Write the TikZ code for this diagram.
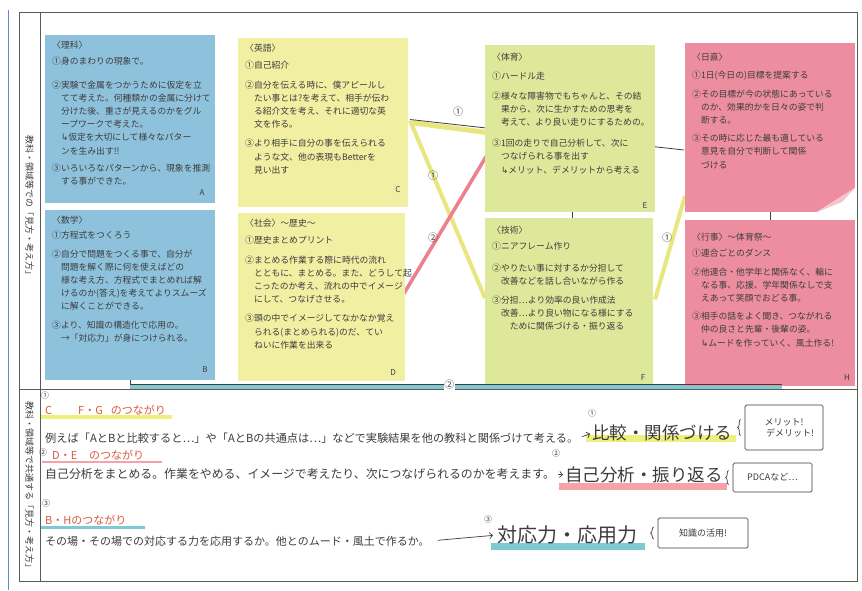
\documentclass[tikz,border=0pt]{standalone}
\usepackage{fontspec}
\setmainfont{Noto Sans CJK JP}
\newfontfamily\symfont{DejaVu Sans}
\usetikzlibrary{calc,backgrounds,decorations.pathreplacing,arrows.meta}
\definecolor{ink}{HTML}{3C3C3C}
\definecolor{frameC}{HTML}{5A5A5A}
\definecolor{scanBlue}{HTML}{5A8CD0}
\definecolor{noteBlue}{HTML}{8EC2DC}
\definecolor{noteYel}{HTML}{F1EFA2}
\definecolor{noteGrn}{HTML}{DEE89A}
\definecolor{notePink}{HTML}{EC8E9F}
\definecolor{flapPink}{HTML}{F6C4CC}
\definecolor{hlY}{HTML}{EEF07C}
\definecolor{hlR}{HTML}{F4A3AA}
\definecolor{hlB}{HTML}{7FCAD2}
\definecolor{lineY}{HTML}{E8E67E}
\definecolor{lineR}{HTML}{EE7F8E}
\definecolor{headR}{HTML}{D95A40}
\newcommand{\hookarr}{{\symfont ↳}}
\begin{document}
\begin{tikzpicture}[x=1pt,y=-1pt,
  notebox/.style={anchor=north west, inner sep=0pt, outer sep=0pt},
  notetext/.style={anchor=north west, align=left, inner sep=0pt, text=ink, font=\fontsize{8.8}{13.2}\selectfont},
  noteletter/.style={inner sep=0pt, text=ink, font=\fontsize{8}{8}\selectfont},
  circnum/.style={inner sep=0.5pt, text=ink, font=\fontsize{10}{10}\selectfont},
  smallnum/.style={inner sep=0pt, text=ink, font=\fontsize{8}{8}\selectfont},
  vlabel/.style={rotate=-90, inner sep=0pt, text=ink, font=\fontsize{9}{9}\selectfont},
  frameline/.style={draw=frameC, line width=0.8pt},
  headtxt/.style={anchor=west, inner sep=0pt, text=headR, font=\fontsize{11}{11}\selectfont},
  bodytxt/.style={anchor=west, inner sep=0pt, text=ink},
  bigtxt/.style={anchor=west, inner sep=0pt, text=ink},
  memobox/.style={draw=ink, line width=0.7pt, inner sep=2pt, align=center, text=ink, font=\fontsize{9}{11}\selectfont, rounded corners=1.5pt},
  inkarrow/.style={draw=ink, line width=0.7pt, -{Straight Barb[length=3pt]}},
  bracestyle/.style={draw=ink, line width=0.7pt, decorate, decoration={brace, amplitude=3pt}},
]
\useasboundingbox (0,0) rectangle (862,590);
\begin{scope}[on background layer]
  \fill[white] (0,0) rectangle (862,590);
\end{scope}

% frame
\draw[scanBlue, line width=1pt] (8,10) -- (8,590);
\draw[frameline] (19,12) rectangle (857,581);
\draw[frameline] (40,12) -- (40,581);
\draw[frameline] (19,389) -- (857,389);

\node[vlabel] (L1) at (29.5,207) {教科・領域等での「見方・考え方」};
\node[vlabel] (L2) at (29.5,487) {教科・領域等で共通する「見方・考え方」};

% sticky notes
\node[notebox, fill=noteBlue, minimum width=170pt, minimum height=168pt] (A) at (45,35) {};
\node[notebox, fill=noteBlue, minimum width=170pt, minimum height=170pt] (B) at (45,210) {};
\node[notebox, fill=noteYel, minimum width=170pt, minimum height=169pt] (C) at (238,38) {};
\node[notebox, fill=noteYel, minimum width=167pt, minimum height=168pt] (D) at (238,213) {};
\node[notebox, fill=noteGrn, minimum width=170pt, minimum height=167pt] (E) at (485,45) {};
\node[notebox, fill=noteGrn, minimum width=168pt, minimum height=167pt] (F) at (485,218) {};
\node[notebox, fill=notePink, minimum width=170pt, minimum height=169pt] (G) at (685,43) {};
\node[notebox, fill=notePink, minimum width=170pt, minimum height=166pt] (H) at (685,220) {};
\fill[white] (G.south east) -- ($(G.south east)+(0,-24)$) -- ($(G.south east)+(-38,0)$) -- cycle;
\fill[flapPink] ($(G.south east)+(0,-24)$) -- ($(G.south east)+(-38,0)$) -- ($(G.south east)+(-13,-10)$) -- cycle;

\node[notetext] (At) at ($(A.north west)+(7,6)$) {〈理科〉\\[3pt]
①身のまわりの現象で。\\[10pt]
②実験で金属をつかうために仮定を立\\
　てて考えた。何種類かの金属に分けて\\
　分けた後、重さが見えるのかをグル\\
　ープワークで考えた。\\
　\hookarr 仮定を大切にして様々なパター\\
　ンを生み出す!!\\[4pt]
③いろいろなパターンから、現象を推測\\
　する事ができた。};
\node[notetext] (Bt) at ($(B.north west)+(7,6)$) {〈数学〉\\[2pt]
①方程式をつくろう\\[5pt]
②自分で問題をつくる事で、自分が\\
　問題を解く際に何を使えばどの\\
　様な考え方、方程式でまとめれば解\\
　けるのか(答え)を考えてよりスムーズ\\
　に解くことができる。\\[5pt]
③より、知識の構造化で応用の。\\
　→「対応力」が身につけられる。};
\node[notetext] (Ct) at ($(C.north west)+(7,6)$) {〈英語〉\\[4pt]
①自己紹介\\[6pt]
②自分を伝える時に、僕アピールし\\
　たい事とは?を考えて、相手が伝わ\\
　る紹介文を考え、それに適切な英\\
　文を作る。\\[6pt]
③より相手に自分の事を伝えられる\\
　ような文、他の表現もBetterを\\
　見い出す};
\node[notetext] (Dt) at ($(D.north west)+(7,6)$) {〈社会〉〜歴史〜\\[4pt]
①歴史まとめプリント\\[6pt]
②まとめる作業する際に時代の流れ\\
　とともに、まとめる。また、どうして起\\
　こったのか考え、流れの中でイメージ\\
　にして、つなげさせる。\\[6pt]
③頭の中でイメージしてなかなか覚え\\
　られる(まとめられる)のだ、てい\\
　ねいに作業を出来る};
\node[notetext] (Et) at ($(E.north west)+(7,8)$) {〈体育〉\\[6pt]
①ハードル走\\[6pt]
②様々な障害物でもちゃんと、その結\\
　果から、次に生かすための思考を\\
　考えて、より良い走りにするための。\\[8pt]
③1回の走りで自己分析して、次に\\
　つなげられる事を出す\\
　\hookarr メリット、デメリットから考える};
\node[notetext] (Ft) at ($(F.north west)+(7,8)$) {〈技術〉\\[3pt]
①ニアフレーム作り\\[8pt]
②やりたい事に対するか分担して\\
　改善などを話し合いながら作る\\[6pt]
③分担…より効率の良い作成法\\
　改善…より良い物になる様にする\\
　　ために関係づける・振り返る};
\node[notetext] (Gt) at ($(G.north west)+(7,10)$) {〈日直〉\\[5pt]
①1日(今日の)目標を提案する\\[5pt]
②その目標が今の状態にあっている\\
　のか、効果的かを日々の姿で判\\
　断する。\\[5pt]
③その時に応じた最も適している\\
　意見を自分で判断して関係\\
　づける};
\node[notetext] (Ht) at ($(H.north west)+(7,13)$) {〈行事〉〜体育祭〜\\[3pt]
①連合ごとのダンス\\[5pt]
②他連合・他学年と関係なく、輪に\\
　なる事、応援、学年関係なしで支\\
　えあって笑顔でおどる事。\\[5pt]
③相手の話をよく聞き、つながれる\\
　仲の良さと先輩・後輩の姿。\\
　\hookarr ムードを作っていく、風土作る!};

\node[noteletter] (Al) at ($(A.south east)+(-13,-10)$) {A};
\node[noteletter] (Bl) at ($(B.south east)+(-10,-10)$) {B};
\node[noteletter] (Cl) at ($(C.south east)+(-10,-17)$) {C};
\node[noteletter] (Dl) at ($(D.south east)+(-12,-8)$) {D};
\node[noteletter] (El) at ($(E.south east)+(-10,-6)$) {E};
\node[noteletter] (Fl) at ($(F.south east)+(-10,-7)$) {F};
\node[noteletter] (Hl) at ($(H.south east)+(-8,-8)$) {H};

% connectors behind the notes
\coordinate (bh1) at ($(B.south)+(0,4)$);
\coordinate (bh2) at ($(H.south)+(12,-2)$);
\begin{scope}[on background layer]
  \draw[lineY, line width=5pt] ($(C.east)+(2,0)$) -- ($(E.west)+(2,4)$);
  \draw[ink, line width=0.8pt] ($(C.east)+(2,-3)$) -- ($(G.west)+(-1,22.5)$);
  \draw[lineY, line width=4pt] ($(C.east)+(2,-2)$) -- ($(F.west)+(0,-3.5)$);
  \draw[lineR, line width=3.5pt] ($(D.east)+(-2,-2)$) -- ($(E.west)+(5,21.5)$);
  \draw[lineY, line width=4pt] ($(F.east)+(2,-2)$) -- ($(G.south west)+(0,-16)$);
  \draw[hlB, line width=5pt] ($(bh1)+(0,2.5)$) -- ($(bh2)+(0,2.5)$);
\end{scope}
\draw[ink, line width=0.7pt] (B.south) -- (bh1) -- (bh2);
\draw[ink, line width=0.6pt] ($(E.south)+(2,0)$) -- ($(F.north)+(3,0)$);
\draw[ink, line width=0.6pt] (G.south) -- (H.north);

\node[circnum] (c1) at (458,112) {①};
\node[circnum] (c2) at (433,176) {①};
\node[circnum] (c3) at (433,238) {②};
\node[circnum] (c4) at (667,238) {①};
\node[circnum, fill=white] (c5) at ($(bh1)!0.49!(bh2)+(0,1)$) {②};

% bottom section
\node[smallnum] (n1) at (45,395) {①};
\node[headtxt] (h1) at (45,410) {C\hspace{26pt}F・G\hspace{8pt}のつながり};
\node[bodytxt, font=\fontsize{11.2}{11}\selectfont] (t1) at (45,438) {例えば「AとBと比較すると…」や「AとBの共通点は…」などで実験結果を他の教科と関係づけて考える。};
\node[smallnum] (m1) at (592,413) {①};
\node[bigtxt, font=\fontsize{17.5}{18}\selectfont] (g1) at (592,433) {比較・関係づける};
\node[memobox, minimum width=78pt, minimum height=45pt] (k1) at (784,427.5) {メリット!\\\hspace*{12pt}デメリット!};
\draw[inkarrow, shorten <=4pt, shorten >=2pt] (t1.east) -- (g1.west);
\draw[bracestyle] ($(k1.west)+(-4,8)$) -- ($(k1.west)+(-4,-8)$);

\node[smallnum] (n2) at (43,452) {②};
\node[headtxt] (h2) at (52,455) {D・E\hspace{12pt}のつながり};
\node[bodytxt, font=\fontsize{11.9}{11}\selectfont] (t2) at (45,474) {自己分析をまとめる。作業をやめる、イメージで考えたり、次につなげられるのかを考えます。};
\node[smallnum] (m2) at (556,453) {②};
\node[bigtxt, font=\fontsize{17.5}{18}\selectfont] (g2) at (565,475) {自己分析・振り返る};
\node[memobox, minimum width=79pt, minimum height=29pt] (k2) at (772.5,477.5) {PDCAなど…};
\draw[inkarrow, shorten <=3pt, shorten >=2pt] (t2.east) -- (g2.west);
\draw[bracestyle] ($(k2.west)+(-4,7)$) -- ($(k2.west)+(-4,-7)$);

\node[smallnum] (n3) at (46,503) {③};
\node[headtxt] (h3) at (45,520) {B・Hのつながり};
\node[bodytxt, font=\fontsize{11}{11}\selectfont] (t3) at (45,541) {その場・その場での対応する力を応用するか。他とのムード・風土で作るか。};
\node[smallnum] (m3) at (488,519) {③};
\node[bigtxt, font=\fontsize{20}{20}\selectfont] (g3) at (497,535) {対応力・応用力};
\node[memobox, minimum width=90pt, minimum height=30pt] (k3) at (703,533) {知識の活用!};
\draw[inkarrow, shorten <=8pt, shorten >=4pt] (t3.east) -- (g3.west);
\draw[bracestyle] ($(k3.west)+(-4,6)$) -- ($(k3.west)+(-4,-6)$);

\begin{scope}[on background layer]
  \draw[hlY, line width=3.5pt] ($(h1.south west)+(-5,2)$) -- ($(h1.south east)+(6,2)$);
  \draw[hlR, line width=2.5pt] ($(h2.south west)+(-10,2)$) -- ($(h2.south east)+(18,2)$);
  \draw[hlB, line width=3pt] ($(h3.south west)+(-4,2)$) -- ($(h3.south east)+(18,2)$);
  \draw[hlY, line width=7pt] ($(g1.south west)+(-6,-3)$) -- ($(g1.south east)+(4,-3)$);
  \draw[hlR, line width=7pt] ($(g2.south west)+(-6,3)$) -- ($(g2.south east)+(4,3)$);
  \draw[hlB, line width=7pt] ($(g3.south west)+(-6,2)$) -- ($(g3.south east)+(8,2)$);
\end{scope}
\end{tikzpicture}
\end{document}
